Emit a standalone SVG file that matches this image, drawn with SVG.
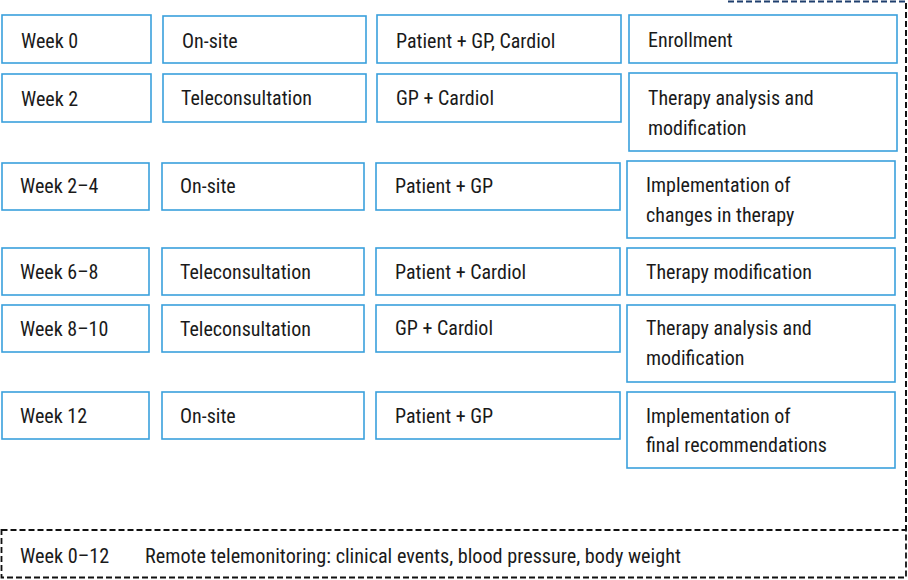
<svg xmlns="http://www.w3.org/2000/svg" width="908" height="580" viewBox="0 0 908 580">
<style>
.b{fill:#fff;stroke:#3aa0dc;stroke-width:1.6}
.t{font-family:"Liberation Sans Narrow","Roboto Condensed","Liberation Sans",Arial,sans-serif;font-size:20px;fill:#1a1a1a}
.d{fill:none;stroke:#111;stroke-width:1.8;stroke-dasharray:6 3}
</style>
<rect width="908" height="580" fill="#fff"/>
<g id="connectors">
<line x1="728" y1="1.5" x2="906" y2="1.5" stroke="#1f3f6e" stroke-width="2" stroke-dasharray="6 3"/>
<line x1="906" y1="3" x2="906" y2="530" stroke="#111" stroke-width="2" stroke-dasharray="6 3"/>
</g>
<g id="r1c1"><rect class="b" x="2" y="15" width="149" height="48"/><text class="t" x="21" y="48">Week 0</text></g>
<g id="r1c2"><rect class="b" x="163" y="16" width="203" height="47"/><text class="t" x="182" y="48">On-site</text></g>
<g id="r1c3"><rect class="b" x="377" y="15" width="244" height="48"/><text class="t" x="396" y="48">Patient + GP, Cardiol</text></g>
<g id="r1c4"><rect class="b" x="629" y="15" width="268" height="48"/><text class="t" x="648" y="47">Enrollment</text></g>

<g id="r2c1"><rect class="b" x="2" y="74" width="149" height="48"/><text class="t" x="21" y="106">Week 2</text></g>
<g id="r2c2"><rect class="b" x="163" y="74" width="203" height="48"/><text class="t" x="181" y="105">Teleconsultation</text></g>
<g id="r2c3"><rect class="b" x="377" y="74" width="244" height="48"/><text class="t" x="396" y="105">GP + Cardiol</text></g>
<g id="r2c4"><rect class="b" x="629" y="73" width="268" height="78"/><text class="t" x="648" y="105">Therapy analysis and</text><text class="t" x="648" y="135">modification</text></g>

<g id="r3c1"><rect class="b" x="2" y="163" width="147" height="47"/><text class="t" x="20" y="193">Week 2–4</text></g>
<g id="r3c2"><rect class="b" x="162" y="163" width="202" height="47"/><text class="t" x="180" y="193">On-site</text></g>
<g id="r3c3"><rect class="b" x="376" y="163" width="244" height="47"/><text class="t" x="395" y="193">Patient + GP</text></g>
<g id="r3c4"><rect class="b" x="627" y="161" width="268" height="77"/><text class="t" x="646" y="192">Implementation of</text><text class="t" x="646" y="222">changes in therapy</text></g>

<g id="r4c1"><rect class="b" x="2" y="248" width="147" height="47"/><text class="t" x="20" y="279">Week 6–8</text></g>
<g id="r4c2"><rect class="b" x="162" y="248" width="202" height="47"/><text class="t" x="180" y="279">Teleconsultation</text></g>
<g id="r4c3"><rect class="b" x="376" y="248" width="244" height="47"/><text class="t" x="395" y="279">Patient + Cardiol</text></g>
<g id="r4c4"><rect class="b" x="627" y="248" width="268" height="47"/><text class="t" x="646" y="279">Therapy modification</text></g>

<g id="r5c1"><rect class="b" x="2" y="305" width="147" height="47"/><text class="t" x="20" y="336">Week 8–10</text></g>
<g id="r5c2"><rect class="b" x="162" y="305" width="202" height="47"/><text class="t" x="180" y="336">Teleconsultation</text></g>
<g id="r5c3"><rect class="b" x="376" y="305" width="244" height="47"/><text class="t" x="395" y="335">GP + Cardiol</text></g>
<g id="r5c4"><rect class="b" x="627" y="305" width="268" height="77"/><text class="t" x="646" y="335">Therapy analysis and</text><text class="t" x="646" y="365">modification</text></g>

<g id="r6c1"><rect class="b" x="2" y="392" width="147" height="47"/><text class="t" x="20" y="423">Week 12</text></g>
<g id="r6c2"><rect class="b" x="162" y="392" width="202" height="47"/><text class="t" x="180" y="423">On-site</text></g>
<g id="r6c3"><rect class="b" x="376" y="392" width="244" height="47"/><text class="t" x="395" y="423">Patient + GP</text></g>
<g id="r6c4"><rect class="b" x="627" y="392" width="268" height="76"/><text class="t" x="646" y="423">Implementation of</text><text class="t" x="646" y="452">final recommendations</text></g>

<g id="monitoring"><rect class="d" x="1.5" y="530" width="904.5" height="47.5"/><text class="t" x="20" y="563" style="font-size:20.2px">Week 0–12</text><text class="t" x="145" y="563" style="font-size:20.2px">Remote telemonitoring: clinical events, blood pressure, body weight</text></g>
</svg>
